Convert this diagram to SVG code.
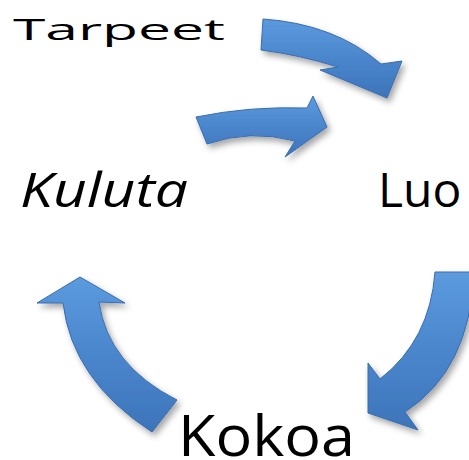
<svg xmlns="http://www.w3.org/2000/svg" width="469" height="460" viewBox="0 0 469 460">
<defs>
<linearGradient id="blue" x1="0" y1="0" x2="0" y2="1">
<stop offset="0" stop-color="#5c9ade"/>
<stop offset="0.5" stop-color="#4a86cc"/>
<stop offset="1" stop-color="#3d74ba"/>
</linearGradient>
<filter id="shadow" x="-20%" y="-20%" width="150%" height="150%">
<feDropShadow dx="3" dy="4" stdDeviation="3" flood-color="#000" flood-opacity="0.35"/>
</filter>
</defs>
<style>
.arrow{fill:url(#blue);stroke:#3a6cae;stroke-width:1;stroke-linejoin:miter;filter:url(#shadow)}
.lbl{fill:#000;font-family:"Open Sans","Liberation Sans",sans-serif}
</style>
<rect width="469" height="460" fill="#fff"/>
<g id="connectors">
<path class="arrow" d="M263,19 Q335,24 381,64 L402,61 L387,98 L320,70 L338,67 Q300,55 261,50 Z"/>
<path class="arrow" d="M196,117 Q250,106 307,108 L313,96 L327,127 L285,157 L295,141 Q250,129 207,144 Z"/>
<path class="arrow" d="M80,277 L125,303 L99,302 Q108,365 177,400 L152,432 Q72,380 63,303 L37,303 Z"/>
<path class="arrow" d="M435,272 L474,272 Q470,370 405,412 L418,430 L368,413 L368,363 L380,379 Q430,340 435,272 Z"/>
</g>
<g id="node-tarpeet"><text class="lbl" x="13" y="40" font-size="30" textLength="212" lengthAdjust="spacingAndGlyphs">Tarpeet</text></g>
<g id="node-kuluta"><text class="lbl" x="20" y="207" font-size="48" font-style="italic" textLength="168" lengthAdjust="spacingAndGlyphs">Kuluta</text></g>
<g id="node-luo"><text class="lbl" x="378" y="207" font-size="48">Luo</text></g>
<g id="node-kokoa"><text class="lbl" x="178" y="456" font-size="57" textLength="177" lengthAdjust="spacingAndGlyphs">Kokoa</text></g>
</svg>
